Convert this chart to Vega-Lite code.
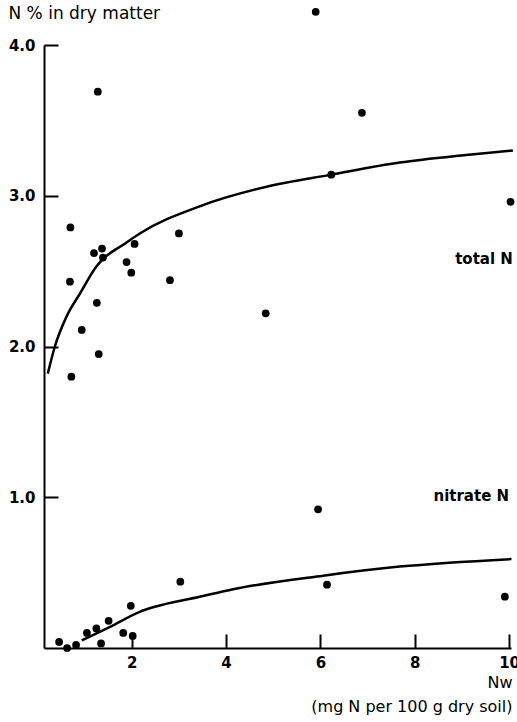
{
  "$schema": "https://vega.github.io/schema/vega-lite/v6.json",
  "width": 467,
  "height": 603,
  "autosize": "none",
  "padding": {"left": 44, "top": 45, "right": 6, "bottom": 74},
  "background": "white",
  "config": {
    "view": {"stroke": null},
    "font": "DejaVu Sans",
    "axis": {
      "grid": false,
      "domainColor": "black",
      "domainWidth": 2,
      "tickColor": "black",
      "tickWidth": 2,
      "tickSize": -14,
      "labelColor": "black",
      "labelFont": "DejaVu Sans",
      "labelFontSize": 15,
      "labelFontWeight": "bold",
      "titleColor": "black",
      "titleFont": "DejaVu Sans",
      "titleFontSize": 16,
      "titleFontWeight": "normal"
    }
  },
  "datasets": {
    "total": [
      {"x": 0.70, "y": 2.79}, {"x": 1.20, "y": 2.62}, {"x": 1.37, "y": 2.65}, {"x": 1.39, "y": 2.59},
      {"x": 2.06, "y": 2.68}, {"x": 1.89, "y": 2.56}, {"x": 1.99, "y": 2.49}, {"x": 3.00, "y": 2.75},
      {"x": 2.81, "y": 2.44}, {"x": 0.69, "y": 2.43}, {"x": 1.26, "y": 2.29}, {"x": 0.94, "y": 2.11},
      {"x": 1.30, "y": 1.95}, {"x": 0.72, "y": 1.80}, {"x": 1.28, "y": 3.69}, {"x": 4.84, "y": 2.22},
      {"x": 5.90, "y": 4.22}, {"x": 6.23, "y": 3.14}, {"x": 6.88, "y": 3.55}, {"x": 10.03, "y": 2.96}
    ],
    "nitrate": [
      {"x": 0.46, "y": 0.04}, {"x": 0.63, "y": 0.0}, {"x": 0.82, "y": 0.02}, {"x": 1.05, "y": 0.10},
      {"x": 1.25, "y": 0.13}, {"x": 1.51, "y": 0.18}, {"x": 1.98, "y": 0.28}, {"x": 1.82, "y": 0.10},
      {"x": 2.02, "y": 0.08}, {"x": 1.35, "y": 0.03}, {"x": 3.03, "y": 0.44}, {"x": 5.95, "y": 0.92},
      {"x": 6.14, "y": 0.42}, {"x": 9.91, "y": 0.34}
    ],
    "totalCurve": [
      {"x": 0.22, "y": 1.82}, {"x": 0.37, "y": 2.0}, {"x": 0.62, "y": 2.20}, {"x": 0.90, "y": 2.35},
      {"x": 1.25, "y": 2.53}, {"x": 1.89, "y": 2.69}, {"x": 2.17, "y": 2.75}, {"x": 3.44, "y": 2.93},
      {"x": 4.86, "y": 3.06}, {"x": 6.23, "y": 3.14}, {"x": 7.68, "y": 3.22}, {"x": 9.09, "y": 3.27},
      {"x": 10.08, "y": 3.30}
    ],
    "nitrateCurve": [
      {"x": 0.94, "y": 0.05}, {"x": 1.54, "y": 0.14}, {"x": 2.17, "y": 0.24}, {"x": 2.45, "y": 0.27},
      {"x": 3.44, "y": 0.34}, {"x": 4.15, "y": 0.39}, {"x": 6.06, "y": 0.48}, {"x": 7.68, "y": 0.54},
      {"x": 10.05, "y": 0.59}
    ]
  },
  "layer": [
    {
      "data": {"name": "totalCurve"},
      "mark": {"type": "line", "color": "black", "strokeWidth": 2.5, "interpolate": "monotone"},
      "encoding": {
        "x": {"field": "x", "type": "quantitative", "scale": {"domain": [0.14, 10.04], "nice": false, "zero": false},
          "axis": {"values": [2, 4, 6, 8, 10], "format": "d", "labelPadding": 21,
            "title": ["Nw", "(mg N per 100 g dry soil)"], "titleAnchor": "end", "titleAlign": "right",
            "titleX": 468, "titleY": 26, "titleBaseline": "top", "titleLineHeight": 24}},
        "y": {"field": "y", "type": "quantitative", "scale": {"domain": [0, 4], "nice": false},
          "axis": {"values": [1, 2, 3, 4], "format": ".1f", "labelPadding": 23,
            "title": "N % in dry matter", "titleAngle": 0, "titleAlign": "left", "titleBaseline": "middle",
            "titleX": -36, "titleY": -32, "titleFontSize": 17}}
      }
    },
    {
      "data": {"name": "nitrateCurve"},
      "mark": {"type": "line", "color": "black", "strokeWidth": 2.5, "interpolate": "monotone"},
      "encoding": {
        "x": {"field": "x", "type": "quantitative"},
        "y": {"field": "y", "type": "quantitative"}
      }
    },
    {
      "data": {"name": "total"},
      "mark": {"type": "circle", "color": "black", "opacity": 1, "size": 60},
      "encoding": {
        "x": {"field": "x", "type": "quantitative"},
        "y": {"field": "y", "type": "quantitative"}
      }
    },
    {
      "data": {"name": "nitrate"},
      "mark": {"type": "circle", "color": "black", "opacity": 1, "size": 60},
      "encoding": {
        "x": {"field": "x", "type": "quantitative"},
        "y": {"field": "y", "type": "quantitative"}
      }
    },
    {
      "data": {"values": [{"label": "total N"}]},
      "mark": {"type": "text", "align": "right", "baseline": "middle", "fontSize": 15, "fontWeight": "bold", "color": "black", "font": "DejaVu Sans"},
      "encoding": {
        "x": {"datum": 10.08},
        "y": {"datum": 2.58},
        "text": {"field": "label"}
      }
    },
    {
      "data": {"values": [{"label": "nitrate N"}]},
      "mark": {"type": "text", "align": "right", "baseline": "middle", "fontSize": 15, "fontWeight": "bold", "color": "black", "font": "DejaVu Sans"},
      "encoding": {
        "x": {"datum": 10.0},
        "y": {"datum": 1.01},
        "text": {"field": "label"}
      }
    }
  ]
}
